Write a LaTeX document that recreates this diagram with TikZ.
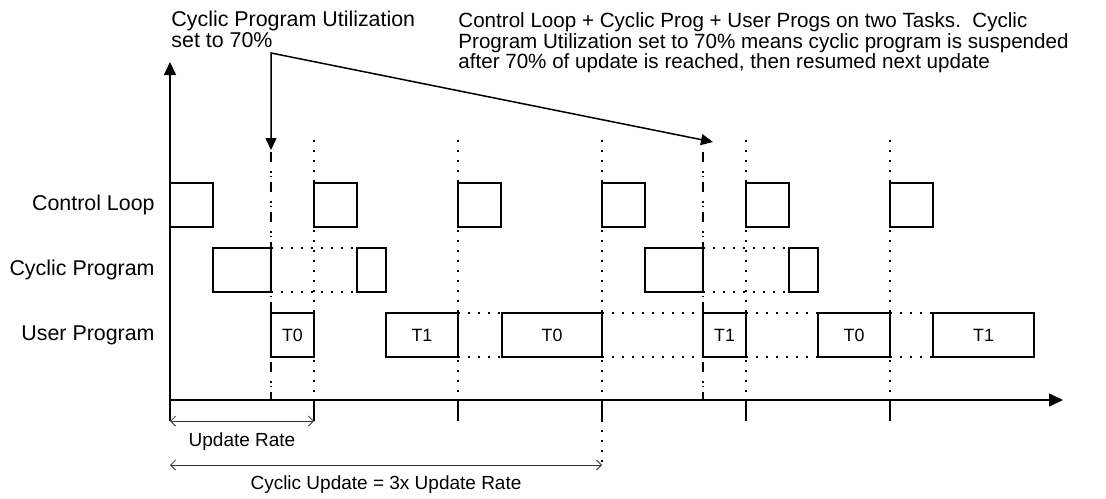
\documentclass[tikz,border=0pt]{standalone}
\usepackage{fontspec}
\setmainfont{Liberation Sans}
\usepackage{tikz}
\usetikzlibrary{arrows.meta}
\tikzset{
  box/.style={line width=0.75pt},
  gap/.style={line width=0.75pt,dash pattern=on 0.75pt off 4.25pt},
  mark70/.style={line width=0.75pt,dash pattern=on 5pt off 4.5pt on 0.75pt off 1.5pt on 0.75pt off 2.5pt},
  axis/.style={line width=0.8pt},
  dim/.style={line width=0.4pt,black!80,{Straight Barb[length=2.5pt,width=5pt]}-{Straight Barb[length=2.5pt,width=5pt]}},
  lbl/.style={font=\fontsize{10.7}{10.35}\selectfont,inner sep=0pt},
  note/.style={font=\fontsize{10.3}{10.35}\selectfont,inner sep=0pt},
  tsk/.style={font=\fontsize{8.9}{10}\selectfont,inner sep=0pt},
  dimlbl/.style={font=\fontsize{9.5}{10}\selectfont,inner sep=0pt}
}

\begin{document}
\begin{tikzpicture}[x=0.5pt,y=-0.5pt]
\useasboundingbox (0,0) rectangle (1106,498);
\node[lbl,anchor=north west,align=left] (noteL) at (171,11) {Cyclic Program Utilization\\set to 70\%};
\node[note,anchor=north west,align=left] (noteR) at (458,12) {Control Loop + Cyclic Prog + User Progs on two Tasks.\ \ Cyclic\\Program Utilization set to 70\% means cyclic program is suspended\\after 70\% of update is reached, then resumed next update};
\node[lbl,anchor=east] (rowCL) at (155,205) {Control Loop};
\node[lbl,anchor=east] (rowCP) at (155,270) {Cyclic Program};
\node[lbl,anchor=east] (rowUP) at (155,335) {User Program};
\draw[gap] (314,140) -- (314,400);
\draw[gap] (458,140) -- (458,400);
\draw[gap] (602,140) -- (602,465);
\draw[gap] (746,140) -- (746,400);
\draw[gap] (890,140) -- (890,400);
\draw[mark70] (271,152) -- (271,400);
\draw[mark70] (703,152) -- (703,400);
\draw[box] (170,183) rectangle (213,227);
\draw[box] (314,183) rectangle (357,227);
\draw[box] (458,183) rectangle (501,227);
\draw[box] (602,183) rectangle (645,227);
\draw[box] (746,183) rectangle (789,227);
\draw[box] (890,183) rectangle (933,227);
\draw[box] (213,248) rectangle (271,292);
\draw[gap] (271,248) -- (357,248);
\draw[gap] (271,292) -- (357,292);
\draw[box] (357,248) rectangle (386,292);
\draw[box] (645,248) rectangle (703,292);
\draw[gap] (703,248) -- (789,248);
\draw[gap] (703,292) -- (789,292);
\draw[box] (789,248) rectangle (818,292);
\draw[box] (271,313) rectangle (314,357) node[tsk,midway] (u1) {T0};
\draw[box] (386,313) rectangle (458,357) node[tsk,midway] (u2) {T1};
\draw[gap] (458,313) -- (502,313);
\draw[gap] (458,357) -- (502,357);
\draw[box] (502,313) rectangle (602,357) node[tsk,midway] (u3) {T0};
\draw[gap] (602,313) -- (703,313);
\draw[gap] (602,357) -- (703,357);
\draw[box] (703,313) rectangle (746,357) node[tsk,midway] (u4) {T1};
\draw[gap] (746,313) -- (818,313);
\draw[gap] (746,357) -- (818,357);
\draw[box] (818,313) rectangle (890,357) node[tsk,midway] (u5) {T0};
\draw[gap] (890,313) -- (933,313);
\draw[gap] (890,357) -- (933,357);
\draw[box] (933,313) rectangle (1034,357) node[tsk,midway] (u6) {T1};
\draw[axis,-{Triangle[length=6.5pt,width=6pt]}] (170,400) -- (170,62);
\draw[axis,-{Triangle[length=7pt,width=6.5pt]}] (170,400) -- (1063,400);
\draw[axis] (170,400) -- (170,421);
\draw[axis] (314,400) -- (314,421);
\draw[axis] (458,400) -- (458,421);
\draw[axis] (602,400) -- (602,421);
\draw[axis] (746,400) -- (746,421);
\draw[axis] (890,400) -- (890,421);
\draw[line width=0.75pt,{Triangle[length=6pt,width=5.5pt]}-{Triangle[length=6pt,width=5.5pt]}] (271,150) -- (271,53) -- (713,142);
\draw[dim] (170,421) -- (314,421);
\node[dimlbl] (rate) at (242,442) {Update Rate};
\draw[dim] (170,465) -- (602,465);
\node[dimlbl] (cyc) at (386,485) {Cyclic Update = 3x Update Rate};
\end{tikzpicture}
\end{document}
